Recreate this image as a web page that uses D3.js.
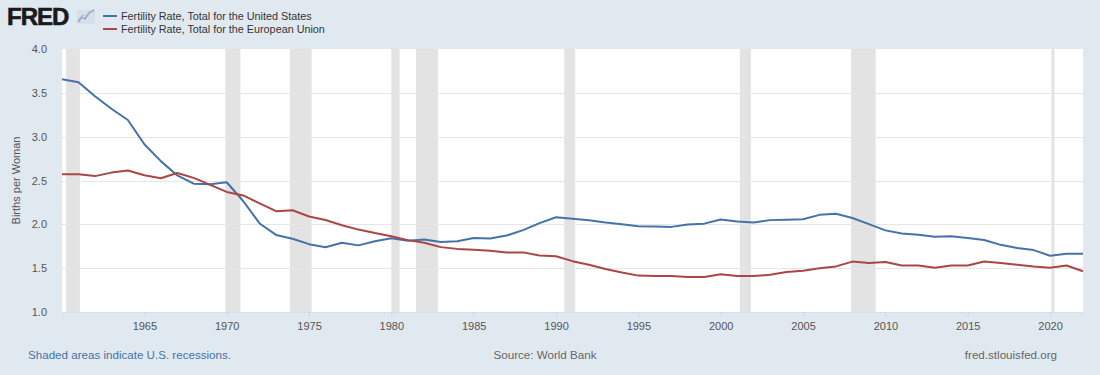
<!DOCTYPE html>
<html>
<head>
<meta charset="utf-8">
<script src="https://cdn.jsdelivr.net/npm/d3@7"></script>
<style>
  body { margin: 0; background: #e1e9f0; }
  svg { display: block; font-family: "Liberation Sans", Arial, sans-serif; }
</style>
</head>
<body>
<div id="chart"></div>
<script>
// data (World Bank, births per woman)
var years = d3.range(1960, 2023);
var usValues = [3.654, 3.620, 3.461, 3.319, 3.190, 2.913, 2.721, 2.558, 2.464, 2.456,
  2.480, 2.266, 2.010, 1.879, 1.835, 1.774, 1.738, 1.790, 1.760, 1.808,
  1.840, 1.812, 1.828, 1.799, 1.807, 1.844, 1.838, 1.872, 1.934, 2.014,
  2.081, 2.063, 2.046, 2.020, 2.002, 1.978, 1.976, 1.971, 1.999, 2.008,
  2.056, 2.031, 2.021, 2.048, 2.052, 2.057, 2.108, 2.120, 2.072, 2.002,
  1.931, 1.895, 1.881, 1.858, 1.863, 1.844, 1.821, 1.766, 1.730, 1.706,
  1.642, 1.664, 1.665];
var euValues = [2.570, 2.570, 2.550, 2.590, 2.615, 2.560, 2.525, 2.585, 2.530, 2.450,
  2.370, 2.330, 2.240, 2.150, 2.160, 2.090, 2.050, 1.990, 1.940, 1.900,
  1.865, 1.820, 1.790, 1.740, 1.720, 1.710, 1.700, 1.680, 1.680, 1.645,
  1.635, 1.580, 1.540, 1.490, 1.450, 1.415, 1.410, 1.410, 1.400, 1.400,
  1.430, 1.410, 1.410, 1.425, 1.455, 1.470, 1.500, 1.520, 1.575, 1.560,
  1.570, 1.530, 1.530, 1.505, 1.530, 1.530, 1.575, 1.560, 1.540, 1.520,
  1.505, 1.530, 1.465];
var recessionStart = ["1960-04-01", "1969-12-01", "1973-11-01", "1980-01-01", "1981-07-01",
  "1990-07-01", "2001-03-01", "2007-12-01", "2020-02-01"];
var recessionEnd = ["1961-02-01", "1970-11-01", "1975-03-01", "1980-07-01", "1982-11-01",
  "1991-03-01", "2001-11-01", "2009-06-01", "2020-04-01"];
var seriesNames = ["Fertility Rate, Total for the United States",
  "Fertility Rate, Total for the European Union"];
var yTicks = [1.0, 1.5, 2.0, 2.5, 3.0, 3.5, 4.0];
var xTickYears = [1965, 1970, 1975, 1980, 1985, 1990, 1995, 2000, 2005, 2010, 2015, 2020];

var width = 1100, height = 375;
var margin = { left: 62, right: 17, top: 49, bottom: 63 };
var blue = "#4572a7", red = "#aa4643";

var svg = d3.select("#chart").append("svg")
  .attr("width", width)
  .attr("height", height);

svg.append("rect").attr("width", width).attr("height", height).attr("fill", "#e1e9f0");

var parse = d3.timeParse("%Y-%m-%d");
var x = d3.scaleTime()
  .domain([new Date(1960, 0, 1), new Date(2022, 0, 1)])
  .range([margin.left, width - margin.right]);
var y = d3.scaleLinear()
  .domain([1, 4])
  .range([height - margin.bottom, margin.top]);

// plot background
svg.append("rect")
  .attr("x", margin.left).attr("y", margin.top)
  .attr("width", width - margin.left - margin.right)
  .attr("height", height - margin.top - margin.bottom)
  .attr("fill", "#ffffff");

// recession bars
svg.append("g").selectAll("rect")
  .data(recessionStart.map(function (d, i) { return [parse(d), parse(recessionEnd[i])]; }))
  .enter().append("rect")
  .attr("x", function (d) { return x(d[0]); })
  .attr("width", function (d) { return Math.max(3, x(d[1]) - x(d[0])); })
  .attr("y", margin.top)
  .attr("height", height - margin.top - margin.bottom)
  .attr("fill", "#e3e3e3");

// gridlines
svg.append("g").selectAll("line")
  .data(yTicks.slice(1, -1))
  .enter().append("line")
  .attr("x1", margin.left).attr("x2", width - margin.right)
  .attr("y1", function (d) { return Math.round(y(d)) + 0.5; })
  .attr("y2", function (d) { return Math.round(y(d)) + 0.5; })
  .attr("stroke", "#e6e6e6");

// y axis
var yAxis = svg.append("g")
  .attr("transform", "translate(" + (margin.left - 12) + ",0)")
  .call(d3.axisLeft(y).tickValues(yTicks).tickFormat(d3.format(".1f")).tickSize(0));
yAxis.select(".domain").remove();
yAxis.selectAll("text").attr("fill", "#555").attr("font-size", 11).attr("dy", "0.32em")
  .attr("font-family", "Liberation Sans, Arial, sans-serif");

svg.append("text")
  .attr("transform", "translate(20," + ((margin.top + height - margin.bottom) / 2) + ") rotate(-90)")
  .attr("text-anchor", "middle")
  .attr("font-size", 11)
  .attr("fill", "#555")
  .text("Births per Woman");

// x axis
var xAxis = svg.append("g")
  .attr("transform", "translate(0," + (height - margin.bottom) + ")")
  .call(d3.axisBottom(x)
    .tickValues(xTickYears.map(function (d) { return new Date(d, 0, 1); }))
    .tickFormat(d3.timeFormat("%Y"))
    .tickSize(5).tickPadding(5));
xAxis.select(".domain").attr("stroke", "#ccd6eb").attr("stroke-dasharray", "1,1");
xAxis.selectAll("line").attr("stroke", "#ccd6eb");
xAxis.selectAll("text").attr("fill", "#555").attr("font-size", 11)
  .attr("font-family", "Liberation Sans, Arial, sans-serif");

// lines
var line = d3.line()
  .x(function (d) { return x(new Date(d[0], 0, 1)); })
  .y(function (d) { return y(d[1]); });

[[usValues, blue], [euValues, red]].forEach(function (s) {
  svg.append("path")
    .datum(years.map(function (yr, i) { return [yr, s[0][i]]; }))
    .attr("d", line)
    .attr("fill", "none")
    .attr("stroke", s[1])
    .attr("stroke-width", 2)
    .attr("stroke-linejoin", "round");
});

// FRED logo
var logo = svg.append("g");
logo.append("text")
  .attr("x", 7).attr("y", 25)
  .attr("font-size", 24).attr("font-weight", "bold")
  .attr("font-family", "Liberation Sans, Arial, sans-serif")
  .attr("letter-spacing", "-1")
  .attr("stroke", "#1a1a1a").attr("stroke-width", 0.6)
  .attr("fill", "#1a1a1a")
  .text("FRED");
logo.append("rect").attr("x", 77).attr("y", 10).attr("width", 18).attr("height", 14)
  .attr("fill", "#d7e0ea");
logo.append("path")
  .attr("d", "M78,22 L82,17 L85,19 L89,13 L94,10")
  .attr("fill", "none").attr("stroke", "#8fa6c4").attr("stroke-width", 1.5);
logo.append("path")
  .attr("d", "M78,20 L82,15 L86,16 L90,11 L94,12")
  .attr("fill", "none").attr("stroke", "#b7c6d9").attr("stroke-width", 1);

// legend
var legend = svg.append("g");
seriesNames.forEach(function (name, i) {
  var ly = 16 + i * 13;
  legend.append("line")
    .attr("x1", 103).attr("x2", 117).attr("y1", ly).attr("y2", ly)
    .attr("stroke", i === 0 ? blue : red).attr("stroke-width", 2);
  legend.append("text")
    .attr("x", 121).attr("y", ly).attr("dy", "0.35em")
    .attr("font-size", 10.8).attr("fill", "#333")
    .text(name);
});

// footer
svg.append("text").attr("x", 28).attr("y", 359)
  .attr("font-size", 11.6).attr("fill", "#4572a7")
  .text("Shaded areas indicate U.S. recessions.");
svg.append("text").attr("x", 545).attr("y", 359).attr("text-anchor", "middle")
  .attr("font-size", 11.6).attr("fill", "#666")
  .text("Source: World Bank");
svg.append("text").attr("x", 1057).attr("y", 359).attr("text-anchor", "end")
  .attr("font-size", 11.6).attr("fill", "#666")
  .text("fred.stlouisfed.org");
</script>
</body>
</html>
